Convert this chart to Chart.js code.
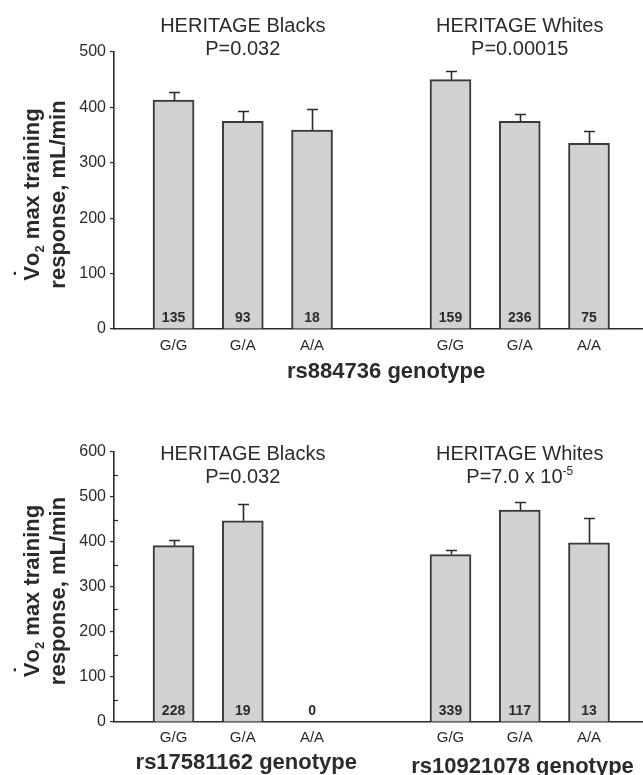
<!DOCTYPE html>
<html lang="en">
<head>
    <meta charset="UTF-8">
    <title>VO2 max training response by genotype</title>
    <script src="https://cdn.jsdelivr.net/npm/chart.js"></script>
    <style>
        body {
            margin: 0;
            background: #fff;
        }

        .panel {
            position: relative;
            width: 643px;
        }
    </style>
</head>
<body>
    <div class="panel" style="height: 387px;"><canvas id="top-chart"></canvas></div>
    <div class="panel" style="height: 388px;"><canvas id="bottom-chart"></canvas></div>

    <script>
        // genotypes shown in each cohort, cohorts side by side
        const genotypes = ['G/G', 'G/A', 'A/A'];
        const cohorts = ['HERITAGE Blacks', 'HERITAGE Whites'];

        // rs884736 panel
        const topMeans = [413, 375, 359, 450, 375, 335];
        const topErrors = [15, 18, 39, 16, 13, 22];
        const topCounts = [135, 93, 18, 159, 236, 75];
        const topPValues = [['P=0.032'], ['P=0.00015']];
        const topSnps = ['rs884736 genotype'];
        const topTicks = [0, 100, 200, 300, 400, 500];

        // rs17581162 (Blacks) and rs10921078 (Whites) panel
        const bottomMeans = [392, 447, null, 372, 471, 398];
        const bottomErrors = [12, 38, null, 11, 18, 56];
        const bottomCounts = [228, 19, 0, 339, 117, 13];
        const bottomPValues = [['P=0.032'], ['P=7.0 x 10', '-5']];
        const bottomSnps = ['rs17581162 genotype', 'rs10921078 genotype'];
        const bottomTicks = [0, 100, 200, 300, 400, 500, 600];

        const FONT = "'Liberation Sans', Arial, sans-serif";
        const INK = '#2b2b2b';

        // slot on the x axis: one empty slot between the two cohorts
        function slotOf(i) {
            return Math.floor(i / genotypes.length) * (genotypes.length + 1) + (i % genotypes.length) + 1;
        }

        function toPoints(means) {
            return means.map((m, i) => ({ x: slotOf(i), y: m }));
        }

        // write a list of text runs centered on x; the second run is raised as a superscript
        function drawRuns(ctx, runs, x, y, size, bold) {
            const weight = bold ? 'bold ' : '';
            const fonts = runs.map((r, i) => weight + (i === 0 ? size : Math.round(size * 0.6)) + 'px ' + FONT);
            let total = 0;
            const widths = runs.map((r, i) => {
                ctx.font = fonts[i];
                const w = ctx.measureText(r).width;
                total += w;
                return w;
            });
            let cx = x - total / 2;
            ctx.textAlign = 'left';
            runs.forEach((r, i) => {
                ctx.font = fonts[i];
                ctx.fillText(r, cx, i === 0 ? y : y - size * 0.42);
                cx += widths[i];
            });
        }

        const annotations = {
            id: 'annotations',
            afterDatasetsDraw(chart, args, opts) {
                const { ctx, chartArea } = chart;
                const xs = chart.scales.x;
                const ys = chart.scales.y;
                ctx.save();
                ctx.fillStyle = INK;
                ctx.strokeStyle = INK;
                ctx.textBaseline = 'alphabetic';

                // minor ticks inside the axis
                if (opts.minorStep) {
                    ctx.lineWidth = 1.2;
                    for (let v = opts.minorStep; v < ys.max; v += opts.minorStep * 2) {
                        const py = Math.round(ys.getPixelForValue(v)) + 0.5;
                        ctx.beginPath();
                        ctx.moveTo(chartArea.left, py);
                        ctx.lineTo(chartArea.left + 4, py);
                        ctx.stroke();
                    }
                }

                // error bars, upper half only
                ctx.lineWidth = 1.6;
                opts.means.forEach((m, i) => {
                    if (m === null) return;
                    const px = Math.round(xs.getPixelForValue(slotOf(i))) + 0.5;
                    const y0 = ys.getPixelForValue(m);
                    const y1 = Math.round(ys.getPixelForValue(m + opts.errors[i])) + 0.5;
                    ctx.beginPath();
                    ctx.moveTo(px, y0);
                    ctx.lineTo(px, y1);
                    ctx.moveTo(px - 5.5, y1);
                    ctx.lineTo(px + 5.5, y1);
                    ctx.stroke();
                });

                // group sizes at the foot of each bar
                ctx.textAlign = 'center';
                ctx.font = 'bold 14px ' + FONT;
                opts.counts.forEach((n, i) => {
                    ctx.fillText(String(n), xs.getPixelForValue(slotOf(i)), chartArea.bottom - 7);
                });

                // cohort headings and P values, centered on the middle genotype
                cohorts.forEach((name, g) => {
                    const cx = xs.getPixelForValue(slotOf(g * genotypes.length + 1));
                    ctx.textAlign = 'center';
                    ctx.font = '20px ' + FONT;
                    ctx.fillText(name, cx, opts.titleY);
                    drawRuns(ctx, opts.pValues[g], cx, opts.titleY + 23, 20, false);
                });

                // genotype axis titles
                ctx.textAlign = 'center';
                ctx.font = 'bold 22px ' + FONT;
                opts.snps.forEach((s, k) => {
                    ctx.fillText(s, xs.getPixelForValue(opts.snpX[k]), opts.snpY[k]);
                });

                // y axis title, two rotated lines
                const cy = (chartArea.top + chartArea.bottom) / 2 + 4;
                ctx.translate(0, cy);
                ctx.rotate(-Math.PI / 2);
                const parts = ['V', 'o', '2', ' max training'];
                const fonts = ['bold 22px ' + FONT, 'bold 22px ' + FONT, 'bold 13px ' + FONT, 'bold 22px ' + FONT];
                let total = 0;
                const widths = parts.map((p, i) => {
                    ctx.font = fonts[i];
                    const w = ctx.measureText(p).width;
                    total += w;
                    return w;
                });
                let tx = -total / 2;
                ctx.textAlign = 'left';
                parts.forEach((p, i) => {
                    ctx.font = fonts[i];
                    ctx.fillText(p, tx, i === 2 ? 44 : 39);
                    if (i === 0) {
                        ctx.textAlign = 'center';
                        ctx.fillText('\u02D9', tx + widths[0] / 2, 39 - 9);
                        ctx.textAlign = 'left';
                    }
                    tx += widths[i];
                });
                ctx.textAlign = 'center';
                ctx.font = 'bold 22px ' + FONT;
                ctx.fillText('response, mL/min', 0, 65);
                ctx.restore();
            }
        };

        function createPanel(canvasId, cfg) {
            const ctx = document.getElementById(canvasId).getContext('2d');
            return new Chart(ctx, {
                type: 'bar',
                data: {
                    datasets: [{
                        data: toPoints(cfg.means),
                        backgroundColor: '#d1d1d3',
                        borderColor: '#3a3a3a',
                        borderWidth: 2,
                        barThickness: 41,
                    }],
                },
                options: {
                    responsive: true,
                    maintainAspectRatio: false,
                    animation: false,
                    layout: { padding: { top: cfg.padTop, left: 0, right: 0, bottom: 0 } },
                    plugins: {
                        legend: { display: false },
                        tooltip: { enabled: false },
                        annotations: {
                            means: cfg.means,
                            errors: cfg.errors,
                            counts: cfg.counts,
                            pValues: cfg.pValues,
                            snps: cfg.snps,
                            snpX: cfg.snpX,
                            snpY: cfg.snpY,
                            titleY: cfg.titleY,
                            minorStep: cfg.minorStep,
                        },
                    },
                    scales: {
                        x: {
                            type: 'linear',
                            offset: false,
                            min: 0.14,
                            max: 7.78,
                            grid: { display: false, drawTicks: false },
                            border: { display: true, color: INK, width: 1.6 },
                            afterBuildTicks: scale => {
                                scale.ticks = cfg.means.map((m, i) => ({ value: slotOf(i) }));
                            },
                            afterFit: scale => { scale.height = cfg.xHeight; },
                            ticks: {
                                padding: cfg.xPad,
                                color: INK,
                                font: { family: FONT, size: 15 },
                                callback: value => genotypes[(value - 1) % (genotypes.length + 1)],
                            },
                        },
                        y: {
                            min: 0,
                            max: cfg.ticks[cfg.ticks.length - 1],
                            afterBuildTicks: scale => {
                                scale.ticks = cfg.ticks.map(v => ({ value: v }));
                            },
                            afterFit: scale => { scale.width = 114; },
                            grid: { drawOnChartArea: false, drawTicks: true, tickLength: 4, color: INK, lineWidth: 1.2 },
                            border: { display: true, color: INK, width: 1.6 },
                            ticks: {
                                padding: 4,
                                color: INK,
                                font: { family: FONT, size: 16 },
                            },
                        },
                    },
                },
                plugins: [annotations],
            });
        }

        createPanel('top-chart', {
            means: topMeans,
            errors: topErrors,
            counts: topCounts,
            pValues: topPValues,
            ticks: topTicks,
            snps: topSnps,
            snpX: [4.07],
            snpY: [378],
            titleY: 32,
            padTop: 52,
            xHeight: 58,
            xPad: 8,
            minorStep: 0,
        });

        createPanel('bottom-chart', {
            means: bottomMeans,
            errors: bottomErrors,
            counts: bottomCounts,
            pValues: bottomPValues,
            ticks: bottomTicks,
            snps: bottomSnps,
            snpX: [2.05, 6.04],
            snpY: [382, 386],
            titleY: 73,
            padTop: 65,
            xHeight: 53,
            xPad: 7,
            minorStep: 50,
        });
    </script>
</body>
</html>
